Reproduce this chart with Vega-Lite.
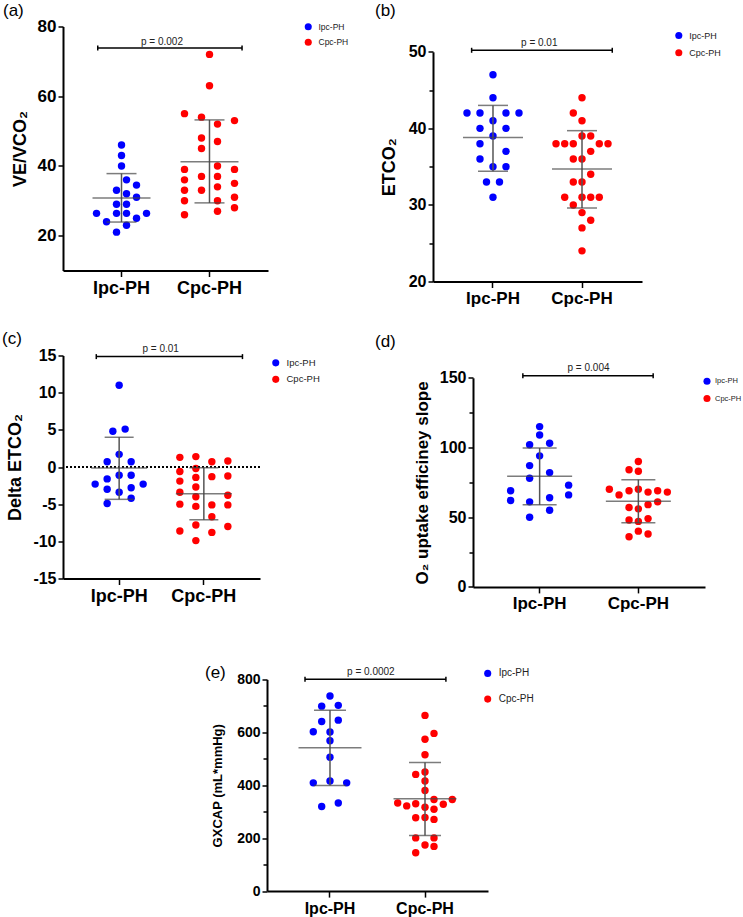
{
"$schema": "https://vega.github.io/schema/vega-lite/v6.json",
"autosize": {"type": "pad"},
"padding": {"left": 2, "top": 1.5, "right": 0, "bottom": 0},
"background": "white",
"config": {
  "view": {"stroke": null},
  "font": "Liberation Sans",
  "axis": {"domainColor": "black", "domainWidth": 2, "tickColor": "black", "tickWidth": 1.5, "grid": false, "labelColor": "black", "labelFontWeight": "bold", "labelFont": "Liberation Sans", "titleFont": "Liberation Sans", "titleFontWeight": "bold", "titleColor": "black", "labelOverlap": false},
  "axisX": {"labelAngle": 0, "tickSize": 6, "labelPadding": 3, "title": null},
  "axisY": {"tickSize": 5, "labelPadding": 2, "titlePadding": 8},
  "legend": {"orient": "none", "symbolType": "circle", "symbolSize": 50, "labelFontSize": 9.5, "labelFont": "Liberation Sans", "labelColor": "#222", "padding": 0, "labelOffset": 6, "symbolStrokeWidth": 0},
  "title": {"anchor": "start", "frame": "group", "fontSize": 17, "fontWeight": "normal", "font": "Liberation Sans", "color": "black", "baseline": "alphabetic", "offset": 0}
},
"datasets": {
  "pts": [
    {"p":"a","g":"Ipc-PH","v":46,"j":0},{"p":"a","g":"Ipc-PH","v":43,"j":0},{"p":"a","g":"Ipc-PH","v":40,"j":0},{"p":"a","g":"Ipc-PH","v":36,"j":5},{"p":"a","g":"Ipc-PH","v":33,"j":-5},{"p":"a","g":"Ipc-PH","v":34.5,"j":15},{"p":"a","g":"Ipc-PH","v":32,"j":5},{"p":"a","g":"Ipc-PH","v":31,"j":15},{"p":"a","g":"Ipc-PH","v":29,"j":-5},{"p":"a","g":"Ipc-PH","v":29,"j":5},{"p":"a","g":"Ipc-PH","v":26.4,"j":-25},{"p":"a","g":"Ipc-PH","v":26.4,"j":-5},{"p":"a","g":"Ipc-PH","v":26.4,"j":5},{"p":"a","g":"Ipc-PH","v":26.4,"j":25},{"p":"a","g":"Ipc-PH","v":24,"j":-15},{"p":"a","g":"Ipc-PH","v":25,"j":15},{"p":"a","g":"Ipc-PH","v":23,"j":5},{"p":"a","g":"Ipc-PH","v":21,"j":-5},
    {"p":"a","g":"Cpc-PH","v":72,"j":0},{"p":"a","g":"Cpc-PH","v":63,"j":0},{"p":"a","g":"Cpc-PH","v":55,"j":-25},{"p":"a","g":"Cpc-PH","v":54,"j":-8},{"p":"a","g":"Cpc-PH","v":53,"j":25},{"p":"a","g":"Cpc-PH","v":52,"j":8},{"p":"a","g":"Cpc-PH","v":48,"j":-8},{"p":"a","g":"Cpc-PH","v":47,"j":8},{"p":"a","g":"Cpc-PH","v":45,"j":-8},{"p":"a","g":"Cpc-PH","v":39,"j":-25},{"p":"a","g":"Cpc-PH","v":40,"j":8},{"p":"a","g":"Cpc-PH","v":39,"j":25},{"p":"a","g":"Cpc-PH","v":37,"j":-8},{"p":"a","g":"Cpc-PH","v":37,"j":8},{"p":"a","g":"Cpc-PH","v":36,"j":-25},{"p":"a","g":"Cpc-PH","v":35,"j":25},{"p":"a","g":"Cpc-PH","v":34,"j":8},{"p":"a","g":"Cpc-PH","v":33,"j":-25},{"p":"a","g":"Cpc-PH","v":33,"j":-8},{"p":"a","g":"Cpc-PH","v":31,"j":25},{"p":"a","g":"Cpc-PH","v":30,"j":-25},{"p":"a","g":"Cpc-PH","v":30,"j":8},{"p":"a","g":"Cpc-PH","v":28,"j":25},{"p":"a","g":"Cpc-PH","v":27,"j":8},{"p":"a","g":"Cpc-PH","v":26,"j":-25},
    {"p":"b","g":"Ipc-PH","v":47,"j":0},{"p":"b","g":"Ipc-PH","v":44,"j":0},{"p":"b","g":"Ipc-PH","v":42,"j":-26},{"p":"b","g":"Ipc-PH","v":42,"j":-13},{"p":"b","g":"Ipc-PH","v":42,"j":13},{"p":"b","g":"Ipc-PH","v":42,"j":26},{"p":"b","g":"Ipc-PH","v":41,"j":0},{"p":"b","g":"Ipc-PH","v":40,"j":-13},{"p":"b","g":"Ipc-PH","v":40,"j":13},{"p":"b","g":"Ipc-PH","v":39,"j":0},{"p":"b","g":"Ipc-PH","v":38,"j":-13},{"p":"b","g":"Ipc-PH","v":37,"j":13},{"p":"b","g":"Ipc-PH","v":36,"j":-13},{"p":"b","g":"Ipc-PH","v":35,"j":0},{"p":"b","g":"Ipc-PH","v":35,"j":13},{"p":"b","g":"Ipc-PH","v":33,"j":-6.5},{"p":"b","g":"Ipc-PH","v":33,"j":6.5},{"p":"b","g":"Ipc-PH","v":31,"j":0},
    {"p":"b","g":"Cpc-PH","v":44,"j":0},{"p":"b","g":"Cpc-PH","v":42,"j":-8.7},{"p":"b","g":"Cpc-PH","v":41,"j":0},{"p":"b","g":"Cpc-PH","v":39,"j":0},{"p":"b","g":"Cpc-PH","v":39,"j":8.7},{"p":"b","g":"Cpc-PH","v":38,"j":-26},{"p":"b","g":"Cpc-PH","v":38,"j":-17.3},{"p":"b","g":"Cpc-PH","v":38,"j":-8.7},{"p":"b","g":"Cpc-PH","v":38,"j":17.3},{"p":"b","g":"Cpc-PH","v":38,"j":26},{"p":"b","g":"Cpc-PH","v":37,"j":8.7},{"p":"b","g":"Cpc-PH","v":36,"j":-8.7},{"p":"b","g":"Cpc-PH","v":36,"j":0},{"p":"b","g":"Cpc-PH","v":34,"j":8.7},{"p":"b","g":"Cpc-PH","v":33,"j":-8.7},{"p":"b","g":"Cpc-PH","v":33,"j":0},{"p":"b","g":"Cpc-PH","v":31,"j":-17.3},{"p":"b","g":"Cpc-PH","v":31,"j":0},{"p":"b","g":"Cpc-PH","v":31,"j":8.7},{"p":"b","g":"Cpc-PH","v":31,"j":17.3},{"p":"b","g":"Cpc-PH","v":30,"j":-8.7},{"p":"b","g":"Cpc-PH","v":29,"j":0},{"p":"b","g":"Cpc-PH","v":28,"j":8.7},{"p":"b","g":"Cpc-PH","v":27,"j":0},{"p":"b","g":"Cpc-PH","v":24,"j":0},
    {"p":"c","g":"Ipc-PH","v":11,"j":0},{"p":"c","g":"Ipc-PH","v":4.8,"j":-6.3},{"p":"c","g":"Ipc-PH","v":5.1,"j":6},{"p":"c","g":"Ipc-PH","v":1.7,"j":0},{"p":"c","g":"Ipc-PH","v":0.7,"j":-12},{"p":"c","g":"Ipc-PH","v":0.7,"j":12},{"p":"c","g":"Ipc-PH","v":-1.1,"j":0},{"p":"c","g":"Ipc-PH","v":-1.1,"j":12},{"p":"c","g":"Ipc-PH","v":-1.6,"j":-12},{"p":"c","g":"Ipc-PH","v":-2.3,"j":-24},{"p":"c","g":"Ipc-PH","v":-2.3,"j":24},{"p":"c","g":"Ipc-PH","v":-3.0,"j":-12},{"p":"c","g":"Ipc-PH","v":-2.8,"j":12},{"p":"c","g":"Ipc-PH","v":-3.4,"j":0},{"p":"c","g":"Ipc-PH","v":-4.2,"j":12},{"p":"c","g":"Ipc-PH","v":-4.9,"j":-12},
    {"p":"c","g":"Cpc-PH","v":1.3,"j":-24},{"p":"c","g":"Cpc-PH","v":1.4,"j":-8},{"p":"c","g":"Cpc-PH","v":0.7,"j":8},{"p":"c","g":"Cpc-PH","v":0.8,"j":24},{"p":"c","g":"Cpc-PH","v":-0.2,"j":-8},{"p":"c","g":"Cpc-PH","v":-0.6,"j":-24},{"p":"c","g":"Cpc-PH","v":-1.9,"j":-24},{"p":"c","g":"Cpc-PH","v":-1.4,"j":-8},{"p":"c","g":"Cpc-PH","v":-1.3,"j":8},{"p":"c","g":"Cpc-PH","v":-1.2,"j":24},{"p":"c","g":"Cpc-PH","v":-2.7,"j":-8},{"p":"c","g":"Cpc-PH","v":-3.4,"j":-24},{"p":"c","g":"Cpc-PH","v":-4.0,"j":-8},{"p":"c","g":"Cpc-PH","v":-3.8,"j":24},{"p":"c","g":"Cpc-PH","v":-5.0,"j":-24},{"p":"c","g":"Cpc-PH","v":-5.3,"j":-8},{"p":"c","g":"Cpc-PH","v":-5.1,"j":8},{"p":"c","g":"Cpc-PH","v":-5.1,"j":24},{"p":"c","g":"Cpc-PH","v":-6.7,"j":8},{"p":"c","g":"Cpc-PH","v":-7.8,"j":-8},{"p":"c","g":"Cpc-PH","v":-8.0,"j":24},{"p":"c","g":"Cpc-PH","v":-8.6,"j":-24},{"p":"c","g":"Cpc-PH","v":-8.8,"j":8},{"p":"c","g":"Cpc-PH","v":-9.9,"j":-8},
    {"p":"d","g":"Ipc-PH","v":115,"j":0},{"p":"d","g":"Ipc-PH","v":109,"j":0},{"p":"d","g":"Ipc-PH","v":102,"j":-10},{"p":"d","g":"Ipc-PH","v":103,"j":10},{"p":"d","g":"Ipc-PH","v":94,"j":0},{"p":"d","g":"Ipc-PH","v":87,"j":-10},{"p":"d","g":"Ipc-PH","v":82,"j":10},{"p":"d","g":"Ipc-PH","v":78,"j":-10},{"p":"d","g":"Ipc-PH","v":69,"j":-29},{"p":"d","g":"Ipc-PH","v":73,"j":29},{"p":"d","g":"Ipc-PH","v":66,"j":29},{"p":"d","g":"Ipc-PH","v":62,"j":-29},{"p":"d","g":"Ipc-PH","v":61,"j":-10},{"p":"d","g":"Ipc-PH","v":64,"j":10},{"p":"d","g":"Ipc-PH","v":55,"j":10},{"p":"d","g":"Ipc-PH","v":50,"j":-10},
    {"p":"d","g":"Cpc-PH","v":90,"j":0},{"p":"d","g":"Cpc-PH","v":84,"j":-9.3},{"p":"d","g":"Cpc-PH","v":83,"j":0},{"p":"d","g":"Cpc-PH","v":70,"j":-29},{"p":"d","g":"Cpc-PH","v":66,"j":-19.3},{"p":"d","g":"Cpc-PH","v":69,"j":-9.3},{"p":"d","g":"Cpc-PH","v":70,"j":0},{"p":"d","g":"Cpc-PH","v":68,"j":9.7},{"p":"d","g":"Cpc-PH","v":69,"j":19.3},{"p":"d","g":"Cpc-PH","v":68,"j":29},{"p":"d","g":"Cpc-PH","v":61,"j":19.3},{"p":"d","g":"Cpc-PH","v":59,"j":9.7},{"p":"d","g":"Cpc-PH","v":57,"j":-9.3},{"p":"d","g":"Cpc-PH","v":56,"j":0},{"p":"d","g":"Cpc-PH","v":48,"j":-9.3},{"p":"d","g":"Cpc-PH","v":47,"j":0},{"p":"d","g":"Cpc-PH","v":49,"j":9.7},{"p":"d","g":"Cpc-PH","v":40,"j":0},{"p":"d","g":"Cpc-PH","v":36,"j":-9.3},{"p":"d","g":"Cpc-PH","v":38,"j":9.7},
    {"p":"e","g":"Ipc-PH","v":737,"j":0},{"p":"e","g":"Ipc-PH","v":699,"j":-8.3},{"p":"e","g":"Ipc-PH","v":702,"j":8.3},{"p":"e","g":"Ipc-PH","v":641,"j":-8.3},{"p":"e","g":"Ipc-PH","v":646,"j":8.3},{"p":"e","g":"Ipc-PH","v":602,"j":-16.7},{"p":"e","g":"Ipc-PH","v":601,"j":0},{"p":"e","g":"Ipc-PH","v":568,"j":0},{"p":"e","g":"Ipc-PH","v":506,"j":0},{"p":"e","g":"Ipc-PH","v":409,"j":-16.7},{"p":"e","g":"Ipc-PH","v":416,"j":0},{"p":"e","g":"Ipc-PH","v":409,"j":16.7},{"p":"e","g":"Ipc-PH","v":320,"j":-8.3},{"p":"e","g":"Ipc-PH","v":333,"j":8.3},
    {"p":"e","g":"Cpc-PH","v":664,"j":0},{"p":"e","g":"Cpc-PH","v":596,"j":9},{"p":"e","g":"Cpc-PH","v":574,"j":0},{"p":"e","g":"Cpc-PH","v":515,"j":0},{"p":"e","g":"Cpc-PH","v":441,"j":-9.3},{"p":"e","g":"Cpc-PH","v":450,"j":0},{"p":"e","g":"Cpc-PH","v":416,"j":0},{"p":"e","g":"Cpc-PH","v":380,"j":0},{"p":"e","g":"Cpc-PH","v":333,"j":-27.3},{"p":"e","g":"Cpc-PH","v":322,"j":-18.3},{"p":"e","g":"Cpc-PH","v":330,"j":-9.3},{"p":"e","g":"Cpc-PH","v":346,"j":9},{"p":"e","g":"Cpc-PH","v":328,"j":18.3},{"p":"e","g":"Cpc-PH","v":346,"j":27.3},{"p":"e","g":"Cpc-PH","v":317,"j":0},{"p":"e","g":"Cpc-PH","v":309,"j":9},{"p":"e","g":"Cpc-PH","v":277,"j":-9.3},{"p":"e","g":"Cpc-PH","v":278,"j":0},{"p":"e","g":"Cpc-PH","v":271,"j":9},{"p":"e","g":"Cpc-PH","v":201,"j":-9.3},{"p":"e","g":"Cpc-PH","v":201,"j":9},{"p":"e","g":"Cpc-PH","v":174,"j":0},{"p":"e","g":"Cpc-PH","v":169,"j":9},{"p":"e","g":"Cpc-PH","v":145,"j":-9.3}
  ],
  "stats": [
    {"p":"a","g":"Ipc-PH","m":30.8,"lo":23.9,"hi":37.8},{"p":"a","g":"Cpc-PH","m":41.2,"lo":29.4,"hi":53.2},
    {"p":"b","g":"Ipc-PH","m":38.8,"lo":34.4,"hi":43.0},{"p":"b","g":"Cpc-PH","m":34.7,"lo":29.6,"hi":39.7},
    {"p":"c","g":"Ipc-PH","m":-0.15,"lo":-4.35,"hi":4.0},{"p":"c","g":"Cpc-PH","m":-3.6,"lo":-7.1,"hi":-0.1},
    {"p":"d","g":"Ipc-PH","m":79.3,"lo":58.9,"hi":99.6},{"p":"d","g":"Cpc-PH","m":61.5,"lo":46.0,"hi":76.9},
    {"p":"e","g":"Ipc-PH","m":542,"lo":399,"hi":683},{"p":"e","g":"Cpc-PH","m":349,"lo":210,"hi":486}
  ],
  "brk": [
    {"p":"a","g1":"Ipc-PH","g2":"Cpc-PH","y":73.8,"t":"p = 0.002"},
    {"p":"b","g1":"Ipc-PH","g2":"Cpc-PH","y":50.2,"t":"p = 0.01"},
    {"p":"c","g1":"Ipc-PH","g2":"Cpc-PH","y":14.85,"t":"p = 0.01"},
    {"p":"d","g1":"Ipc-PH","g2":"Cpc-PH","y":151.5,"t":"p = 0.004"},
    {"p":"e","g1":"Ipc-PH","g2":"Cpc-PH","y":801,"t":"p = 0.0002"}
  ]
},
"bounds": "flush",
"columns": 2,
"spacing": {"row": 74, "column": 165},
"resolve": {"scale": {"color": "independent", "xOffset": "independent"}, "legend": {"color": "independent"}},
"concat": [
 {
  "width": 205, "height": 244,
  "title": {"text": "(a)", "dx": -60, "dy": 6},
  "layer": [
   {"data": {"name": "pts"}, "transform": [{"filter": "datum.p === 'a'"}],
    "mark": {"type": "point", "filled": true, "size": 55, "opacity": 1, "strokeWidth": 0},
    "encoding": {
     "x": {"field": "g", "type": "nominal", "sort": null, "scale": {"domain": ["Ipc-PH", "Cpc-PH"], "paddingInner": 0, "paddingOuter": 0.165}, "axis": {"title": null, "labelFontSize": 18}},
     "xOffset": {"field": "j", "type": "quantitative", "scale": {"domain": [-50, 50], "range": [-6, 94]}},
     "y": {"field": "v", "type": "quantitative", "scale": {"domain": [10, 80], "nice": false, "zero": false}, "axis": {"title": "VE/VCO₂", "values": [20, 40, 60, 80], "tickCount": 50, "labelOverlap": false, "labelExpr": "'' + datum.value", "labelFontSize": 17, "titleFontSize": 18}},
     "color": {"field": "g", "type": "nominal", "scale": {"domain": ["Ipc-PH", "Cpc-PH"], "range": ["#0000ff", "#ff0000"]}, "legend": {"title": null, "legendX": 241, "legendY": -4, "rowPadding": 6.5, "labelFontSize": 8.5}}
    }},
   {"data": {"name": "stats"}, "transform": [{"filter": "datum.p === 'a'"}], "mark": {"type": "rule", "color": "#555", "strokeWidth": 1.5},
    "encoding": {"x": {"field": "g", "type": "nominal", "sort": null}, "y": {"field": "lo", "type": "quantitative"}, "y2": {"field": "hi"}}},
   {"data": {"name": "stats"}, "transform": [{"filter": "datum.p === 'a'"}], "mark": {"type": "tick", "color": "#444", "thickness": 1.5, "size": 58},
    "encoding": {"x": {"field": "g", "type": "nominal", "sort": null}, "y": {"field": "m", "type": "quantitative"}}},
   {"data": {"name": "stats"}, "transform": [{"filter": "datum.p === 'a'"}], "mark": {"type": "tick", "color": "#444", "thickness": 1.5, "size": 30},
    "encoding": {"x": {"field": "g", "type": "nominal", "sort": null}, "y": {"field": "lo", "type": "quantitative"}}},
   {"data": {"name": "stats"}, "transform": [{"filter": "datum.p === 'a'"}], "mark": {"type": "tick", "color": "#444", "thickness": 1.5, "size": 30},
    "encoding": {"x": {"field": "g", "type": "nominal", "sort": null}, "y": {"field": "hi", "type": "quantitative"}}},
   {"data": {"name": "brk"}, "transform": [{"filter": "datum.p === 'a'"}], "mark": {"type": "rule", "color": "black", "strokeWidth": 1.5},
    "encoding": {"x": {"field": "g1", "type": "nominal", "sort": null, "bandPosition": 0.23}, "x2": {"field": "g2", "bandPosition": 0.87}, "y": {"field": "y", "type": "quantitative"}}},
   {"data": {"name": "brk"}, "transform": [{"filter": "datum.p === 'a'"}], "mark": {"type": "point", "shape": "M0,-1L0,1", "size": 25, "filled": false, "stroke": "black", "strokeWidth": 1.5, "opacity": 1},
    "encoding": {"x": {"field": "g1", "type": "nominal", "sort": null, "bandPosition": 0.23}, "y": {"field": "y", "type": "quantitative"}}},
   {"data": {"name": "brk"}, "transform": [{"filter": "datum.p === 'a'"}], "mark": {"type": "point", "shape": "M0,-1L0,1", "size": 25, "filled": false, "stroke": "black", "strokeWidth": 1.5, "opacity": 1},
    "encoding": {"x": {"field": "g2", "type": "nominal", "sort": null, "bandPosition": 0.87}, "y": {"field": "y", "type": "quantitative"}}},
   {"data": {"name": "brk"}, "transform": [{"filter": "datum.p === 'a'"}], "mark": {"type": "text", "fontSize": 10, "font": "Liberation Sans", "color": "#222", "baseline": "alphabetic", "align": "center", "dy": -3.5},
    "encoding": {"x": {"field": "g1", "type": "nominal", "sort": null, "bandPosition": 0.96}, "y": {"field": "y", "type": "quantitative"}, "text": {"field": "t"}}}
  ]
 },
 {
  "width": 209, "height": 255,
  "title": {"text": "(b)", "dx": -58, "dy": -2.75},
  "layer": [
   {"data": {"name": "pts"}, "transform": [{"filter": "datum.p === 'b'"}],
    "mark": {"type": "point", "filled": true, "size": 55, "opacity": 1, "strokeWidth": 0},
    "encoding": {
     "x": {"field": "g", "type": "nominal", "sort": null, "scale": {"domain": ["Ipc-PH", "Cpc-PH"], "paddingInner": 0, "paddingOuter": 0.174}, "axis": {"title": null, "labelFontSize": 17}},
     "xOffset": {"field": "j", "type": "quantitative", "scale": {"domain": [-50, 50], "range": [-5.5, 94.5]}},
     "y": {"field": "v", "type": "quantitative", "scale": {"domain": [20, 50], "nice": false, "zero": false, "range": [255, 25.3]}, "axis": {"title": "ETCO₂", "values": [20, 25, 30, 35, 40, 45, 50], "tickCount": 50, "labelOverlap": false, "labelExpr": "datum.value % 10 === 0 ? '' + datum.value : ''", "tickSize": {"condition": {"test": "datum.value % 10 === 0", "value": 5}, "value": 4}, "labelFontSize": 16, "titleFontSize": 18, "titlePadding": 10}},
     "color": {"field": "g", "type": "nominal", "scale": {"domain": ["Ipc-PH", "Cpc-PH"], "range": ["#0000ff", "#ff0000"]}, "legend": {"title": null, "legendX": 241.3, "legendY": 4.5, "rowPadding": 7.2, "labelFontSize": 9}}
    }},
   {"data": {"name": "stats"}, "transform": [{"filter": "datum.p === 'b'"}], "mark": {"type": "rule", "color": "#555", "strokeWidth": 1.5},
    "encoding": {"x": {"field": "g", "type": "nominal", "sort": null}, "y": {"field": "lo", "type": "quantitative"}, "y2": {"field": "hi"}}},
   {"data": {"name": "stats"}, "transform": [{"filter": "datum.p === 'b'"}], "mark": {"type": "tick", "color": "#444", "thickness": 1.5, "size": 60},
    "encoding": {"x": {"field": "g", "type": "nominal", "sort": null}, "y": {"field": "m", "type": "quantitative"}}},
   {"data": {"name": "stats"}, "transform": [{"filter": "datum.p === 'b'"}], "mark": {"type": "tick", "color": "#444", "thickness": 1.5, "size": 30},
    "encoding": {"x": {"field": "g", "type": "nominal", "sort": null}, "y": {"field": "lo", "type": "quantitative"}}},
   {"data": {"name": "stats"}, "transform": [{"filter": "datum.p === 'b'"}], "mark": {"type": "tick", "color": "#444", "thickness": 1.5, "size": 30},
    "encoding": {"x": {"field": "g", "type": "nominal", "sort": null}, "y": {"field": "hi", "type": "quantitative"}}},
   {"data": {"name": "brk"}, "transform": [{"filter": "datum.p === 'b'"}], "mark": {"type": "rule", "color": "black", "strokeWidth": 1.5},
    "encoding": {"x": {"field": "g1", "type": "nominal", "sort": null, "bandPosition": 0.26}, "x2": {"field": "g2", "bandPosition": 0.84}, "y": {"field": "y", "type": "quantitative"}}},
   {"data": {"name": "brk"}, "transform": [{"filter": "datum.p === 'b'"}], "mark": {"type": "point", "shape": "M0,-1L0,1", "size": 25, "filled": false, "stroke": "black", "strokeWidth": 1.5, "opacity": 1},
    "encoding": {"x": {"field": "g1", "type": "nominal", "sort": null, "bandPosition": 0.26}, "y": {"field": "y", "type": "quantitative"}}},
   {"data": {"name": "brk"}, "transform": [{"filter": "datum.p === 'b'"}], "mark": {"type": "point", "shape": "M0,-1L0,1", "size": 25, "filled": false, "stroke": "black", "strokeWidth": 1.5, "opacity": 1},
    "encoding": {"x": {"field": "g2", "type": "nominal", "sort": null, "bandPosition": 0.84}, "y": {"field": "y", "type": "quantitative"}}},
   {"data": {"name": "brk"}, "transform": [{"filter": "datum.p === 'b'"}], "mark": {"type": "text", "fontSize": 10, "font": "Liberation Sans", "color": "#222", "baseline": "alphabetic", "align": "center", "dy": -4},
    "encoding": {"x": {"field": "g1", "type": "nominal", "sort": null, "bandPosition": 1.02}, "y": {"field": "y", "type": "quantitative"}, "text": {"field": "t"}}}
  ]
 },
 {
  "width": 197, "height": 223,
  "title": {"text": "(c)", "dx": -61, "dy": 8},
  "layer": [
   {"data": {"name": "pts"}, "transform": [{"filter": "datum.p === 'c'"}],
    "mark": {"type": "point", "filled": true, "size": 55, "opacity": 1, "strokeWidth": 0},
    "encoding": {
     "x": {"field": "g", "type": "nominal", "sort": null, "scale": {"domain": ["Ipc-PH", "Cpc-PH"], "paddingInner": 0, "paddingOuter": 0.163}, "axis": {"title": null, "labelFontSize": 18}},
     "xOffset": {"field": "j", "type": "quantitative", "scale": {"domain": [-50, 50], "range": [-7.65, 92.35]}},
     "y": {"field": "v", "type": "quantitative", "scale": {"domain": [-15, 15], "nice": false, "zero": false}, "axis": {"title": "Delta ETCO₂", "values": [-15, -10, -5, 0, 5, 10, 15], "tickCount": 50, "labelOverlap": false, "labelExpr": "'' + datum.value", "labelFontSize": 16, "titleFontSize": 18}},
     "color": {"field": "g", "type": "nominal", "scale": {"domain": ["Ipc-PH", "Cpc-PH"], "range": ["#0000ff", "#ff0000"]}, "legend": {"title": null, "legendX": 208, "legendY": 2.6, "rowPadding": 5.5, "labelFontSize": 9.5}}
    }},
   {"data": {"values": [{}]}, "mark": {"type": "rule", "color": "black", "strokeWidth": 2, "strokeDash": [2, 2]},
    "encoding": {"y": {"datum": 0, "type": "quantitative"}}},
   {"data": {"name": "stats"}, "transform": [{"filter": "datum.p === 'c'"}], "mark": {"type": "rule", "color": "#555", "strokeWidth": 1.5},
    "encoding": {"x": {"field": "g", "type": "nominal", "sort": null}, "y": {"field": "lo", "type": "quantitative"}, "y2": {"field": "hi"}}},
   {"data": {"name": "stats"}, "transform": [{"filter": "datum.p === 'c'"}], "mark": {"type": "tick", "color": "#444", "thickness": 1.5, "size": 56},
    "encoding": {"x": {"field": "g", "type": "nominal", "sort": null}, "y": {"field": "m", "type": "quantitative"}}},
   {"data": {"name": "stats"}, "transform": [{"filter": "datum.p === 'c'"}], "mark": {"type": "tick", "color": "#444", "thickness": 1.5, "size": 29},
    "encoding": {"x": {"field": "g", "type": "nominal", "sort": null}, "y": {"field": "lo", "type": "quantitative"}}},
   {"data": {"name": "stats"}, "transform": [{"filter": "datum.p === 'c'"}], "mark": {"type": "tick", "color": "#444", "thickness": 1.5, "size": 29},
    "encoding": {"x": {"field": "g", "type": "nominal", "sort": null}, "y": {"field": "hi", "type": "quantitative"}}},
   {"data": {"name": "brk"}, "transform": [{"filter": "datum.p === 'c'"}], "mark": {"type": "rule", "color": "black", "strokeWidth": 1.5},
    "encoding": {"x": {"field": "g1", "type": "nominal", "sort": null, "bandPosition": 0.23}, "x2": {"field": "g2", "bandPosition": 0.956}, "y": {"field": "y", "type": "quantitative"}}},
   {"data": {"name": "brk"}, "transform": [{"filter": "datum.p === 'c'"}], "mark": {"type": "point", "shape": "M0,-1L0,1", "size": 25, "filled": false, "stroke": "black", "strokeWidth": 1.5, "opacity": 1},
    "encoding": {"x": {"field": "g1", "type": "nominal", "sort": null, "bandPosition": 0.23}, "y": {"field": "y", "type": "quantitative"}}},
   {"data": {"name": "brk"}, "transform": [{"filter": "datum.p === 'c'"}], "mark": {"type": "point", "shape": "M0,-1L0,1", "size": 25, "filled": false, "stroke": "black", "strokeWidth": 1.5, "opacity": 1},
    "encoding": {"x": {"field": "g2", "type": "nominal", "sort": null, "bandPosition": 0.956}, "y": {"field": "y", "type": "quantitative"}}},
   {"data": {"name": "brk"}, "transform": [{"filter": "datum.p === 'c'"}], "mark": {"type": "text", "fontSize": 10, "font": "Liberation Sans", "color": "#222", "baseline": "alphabetic", "align": "center", "dy": -5},
    "encoding": {"x": {"field": "g1", "type": "nominal", "sort": null, "bandPosition": 0.99}, "y": {"field": "y", "type": "quantitative"}, "text": {"field": "t"}}}
  ]
 },
 {
  "width": 272, "height": 231.4,
  "title": {"text": "(d)", "dx": -58, "dy": -0.8},
  "layer": [
   {"data": {"name": "pts"}, "transform": [{"filter": "datum.p === 'd'"}],
    "mark": {"type": "point", "filled": true, "size": 55, "opacity": 1, "strokeWidth": 0},
    "encoding": {
     "x": {"field": "g", "type": "nominal", "sort": null, "scale": {"domain": ["Ipc-PH", "Cpc-PH"], "paddingInner": 0, "paddingOuter": 0.175, "range": [40, 272]}, "axis": {"title": null, "labelFontSize": 17}},
     "xOffset": {"field": "j", "type": "quantitative", "scale": {"domain": [-50, 50], "range": [-0.65, 99.35]}},
     "y": {"field": "v", "type": "quantitative", "scale": {"domain": [0, 150], "nice": false, "zero": false, "range": [231.4, 22.3]}, "axis": {"offset": -40, "title": "O₂ uptake efficiney slope", "values": [0, 25, 50, 75, 100, 125, 150], "tickCount": 50, "labelOverlap": false, "labelExpr": "datum.value % 50 === 0 ? '' + datum.value : ''", "tickSize": {"condition": {"test": "datum.value % 50 === 0", "value": 5}, "value": 4}, "labelFontSize": 16, "titleFontSize": 17}},
     "color": {"field": "g", "type": "nominal", "scale": {"domain": ["Ipc-PH", "Cpc-PH"], "range": ["#0000ff", "#ff0000"]}, "legend": {"title": null, "legendX": 270, "legendY": 21.7, "rowPadding": 9.3, "labelFontSize": 7.5, "labelOffset": 4}}
    }},
   {"data": {"name": "stats"}, "transform": [{"filter": "datum.p === 'd'"}], "mark": {"type": "rule", "color": "#555", "strokeWidth": 1.5},
    "encoding": {"x": {"field": "g", "type": "nominal", "sort": null}, "y": {"field": "lo", "type": "quantitative"}, "y2": {"field": "hi"}}},
   {"data": {"name": "stats"}, "transform": [{"filter": "datum.p === 'd'"}], "mark": {"type": "tick", "color": "#444", "thickness": 1.5, "size": 65},
    "encoding": {"x": {"field": "g", "type": "nominal", "sort": null}, "y": {"field": "m", "type": "quantitative"}}},
   {"data": {"name": "stats"}, "transform": [{"filter": "datum.p === 'd'"}], "mark": {"type": "tick", "color": "#444", "thickness": 1.5, "size": 34},
    "encoding": {"x": {"field": "g", "type": "nominal", "sort": null}, "y": {"field": "lo", "type": "quantitative"}}},
   {"data": {"name": "stats"}, "transform": [{"filter": "datum.p === 'd'"}], "mark": {"type": "tick", "color": "#444", "thickness": 1.5, "size": 34},
    "encoding": {"x": {"field": "g", "type": "nominal", "sort": null}, "y": {"field": "hi", "type": "quantitative"}}},
   {"data": {"name": "brk"}, "transform": [{"filter": "datum.p === 'd'"}], "mark": {"type": "rule", "color": "black", "strokeWidth": 1.5},
    "encoding": {"x": {"field": "g1", "type": "nominal", "sort": null, "bandPosition": 0.33}, "x2": {"field": "g2", "bandPosition": 0.65}, "y": {"field": "y", "type": "quantitative"}}},
   {"data": {"name": "brk"}, "transform": [{"filter": "datum.p === 'd'"}], "mark": {"type": "point", "shape": "M0,-1L0,1", "size": 25, "filled": false, "stroke": "black", "strokeWidth": 1.5, "opacity": 1},
    "encoding": {"x": {"field": "g1", "type": "nominal", "sort": null, "bandPosition": 0.33}, "y": {"field": "y", "type": "quantitative"}}},
   {"data": {"name": "brk"}, "transform": [{"filter": "datum.p === 'd'"}], "mark": {"type": "point", "shape": "M0,-1L0,1", "size": 25, "filled": false, "stroke": "black", "strokeWidth": 1.5, "opacity": 1},
    "encoding": {"x": {"field": "g2", "type": "nominal", "sort": null, "bandPosition": 0.65}, "y": {"field": "y", "type": "quantitative"}}},
   {"data": {"name": "brk"}, "transform": [{"filter": "datum.p === 'd'"}], "mark": {"type": "text", "fontSize": 10, "font": "Liberation Sans", "color": "#222", "baseline": "alphabetic", "align": "center", "dy": -4.6},
    "encoding": {"x": {"field": "g1", "type": "nominal", "sort": null, "bandPosition": 0.995}, "y": {"field": "y", "type": "quantitative"}, "text": {"field": "t"}}}
  ]
 },
 {
  "width": 205, "height": 229.6,
  "title": {"text": "(e)", "dx": 142, "dy": 24},
  "layer": [
   {"data": {"name": "pts"}, "transform": [{"filter": "datum.p === 'e'"}],
    "mark": {"type": "point", "filled": true, "size": 55, "opacity": 1, "strokeWidth": 0},
    "encoding": {
     "x": {"field": "g", "type": "nominal", "sort": null, "scale": {"domain": ["Ipc-PH", "Cpc-PH"], "paddingInner": 0, "paddingOuter": 0.163, "range": [204, 425]}, "axis": {"title": null, "labelFontSize": 16}},
     "xOffset": {"field": "j", "type": "quantitative", "scale": {"domain": [-50, 50], "range": [-2.5, 97.5]}},
     "y": {"field": "v", "type": "quantitative", "scale": {"domain": [0, 800], "nice": false, "zero": false, "range": [229.6, 17.9]}, "axis": {"offset": -204, "title": "GXCAP (mL*mmHg)", "values": [0, 100, 200, 300, 400, 500, 600, 700, 800], "tickCount": 50, "labelOverlap": false, "labelExpr": "datum.value % 200 === 0 ? '' + datum.value : ''", "tickSize": {"condition": {"test": "datum.value % 200 === 0", "value": 5}, "value": 4}, "labelFontSize": 14, "titleFontSize": 13, "titlePadding": 12}},
     "color": {"field": "g", "type": "nominal", "scale": {"domain": ["Ipc-PH", "Cpc-PH"], "range": ["#0000ff", "#ff0000"]}, "legend": {"title": null, "legendX": 419.7, "legendY": 6.9, "rowPadding": 15.7, "labelFontSize": 10}}
    }},
   {"data": {"name": "stats"}, "transform": [{"filter": "datum.p === 'e'"}], "mark": {"type": "rule", "color": "#555", "strokeWidth": 1.5},
    "encoding": {"x": {"field": "g", "type": "nominal", "sort": null}, "y": {"field": "lo", "type": "quantitative"}, "y2": {"field": "hi"}}},
   {"data": {"name": "stats"}, "transform": [{"filter": "datum.p === 'e'"}], "mark": {"type": "tick", "color": "#444", "thickness": 1.5, "size": 63},
    "encoding": {"x": {"field": "g", "type": "nominal", "sort": null}, "y": {"field": "m", "type": "quantitative"}}},
   {"data": {"name": "stats"}, "transform": [{"filter": "datum.p === 'e'"}], "mark": {"type": "tick", "color": "#444", "thickness": 1.5, "size": 32},
    "encoding": {"x": {"field": "g", "type": "nominal", "sort": null}, "y": {"field": "lo", "type": "quantitative"}}},
   {"data": {"name": "stats"}, "transform": [{"filter": "datum.p === 'e'"}], "mark": {"type": "tick", "color": "#444", "thickness": 1.5, "size": 32},
    "encoding": {"x": {"field": "g", "type": "nominal", "sort": null}, "y": {"field": "hi", "type": "quantitative"}}},
   {"data": {"name": "brk"}, "transform": [{"filter": "datum.p === 'e'"}], "mark": {"type": "rule", "color": "black", "strokeWidth": 1.5},
    "encoding": {"x": {"field": "g1", "type": "nominal", "sort": null, "bandPosition": 0.237}, "x2": {"field": "g2", "bandPosition": 0.72}, "y": {"field": "y", "type": "quantitative"}}},
   {"data": {"name": "brk"}, "transform": [{"filter": "datum.p === 'e'"}], "mark": {"type": "point", "shape": "M0,-1L0,1", "size": 25, "filled": false, "stroke": "black", "strokeWidth": 1.5, "opacity": 1},
    "encoding": {"x": {"field": "g1", "type": "nominal", "sort": null, "bandPosition": 0.237}, "y": {"field": "y", "type": "quantitative"}}},
   {"data": {"name": "brk"}, "transform": [{"filter": "datum.p === 'e'"}], "mark": {"type": "point", "shape": "M0,-1L0,1", "size": 25, "filled": false, "stroke": "black", "strokeWidth": 1.5, "opacity": 1},
    "encoding": {"x": {"field": "g2", "type": "nominal", "sort": null, "bandPosition": 0.72}, "y": {"field": "y", "type": "quantitative"}}},
   {"data": {"name": "brk"}, "transform": [{"filter": "datum.p === 'e'"}], "mark": {"type": "text", "fontSize": 10, "font": "Liberation Sans", "color": "#222", "baseline": "alphabetic", "align": "center", "dy": -4},
    "encoding": {"x": {"field": "g1", "type": "nominal", "sort": null, "bandPosition": 0.93}, "y": {"field": "y", "type": "quantitative"}, "text": {"field": "t"}}}
  ]
 }
]
}
